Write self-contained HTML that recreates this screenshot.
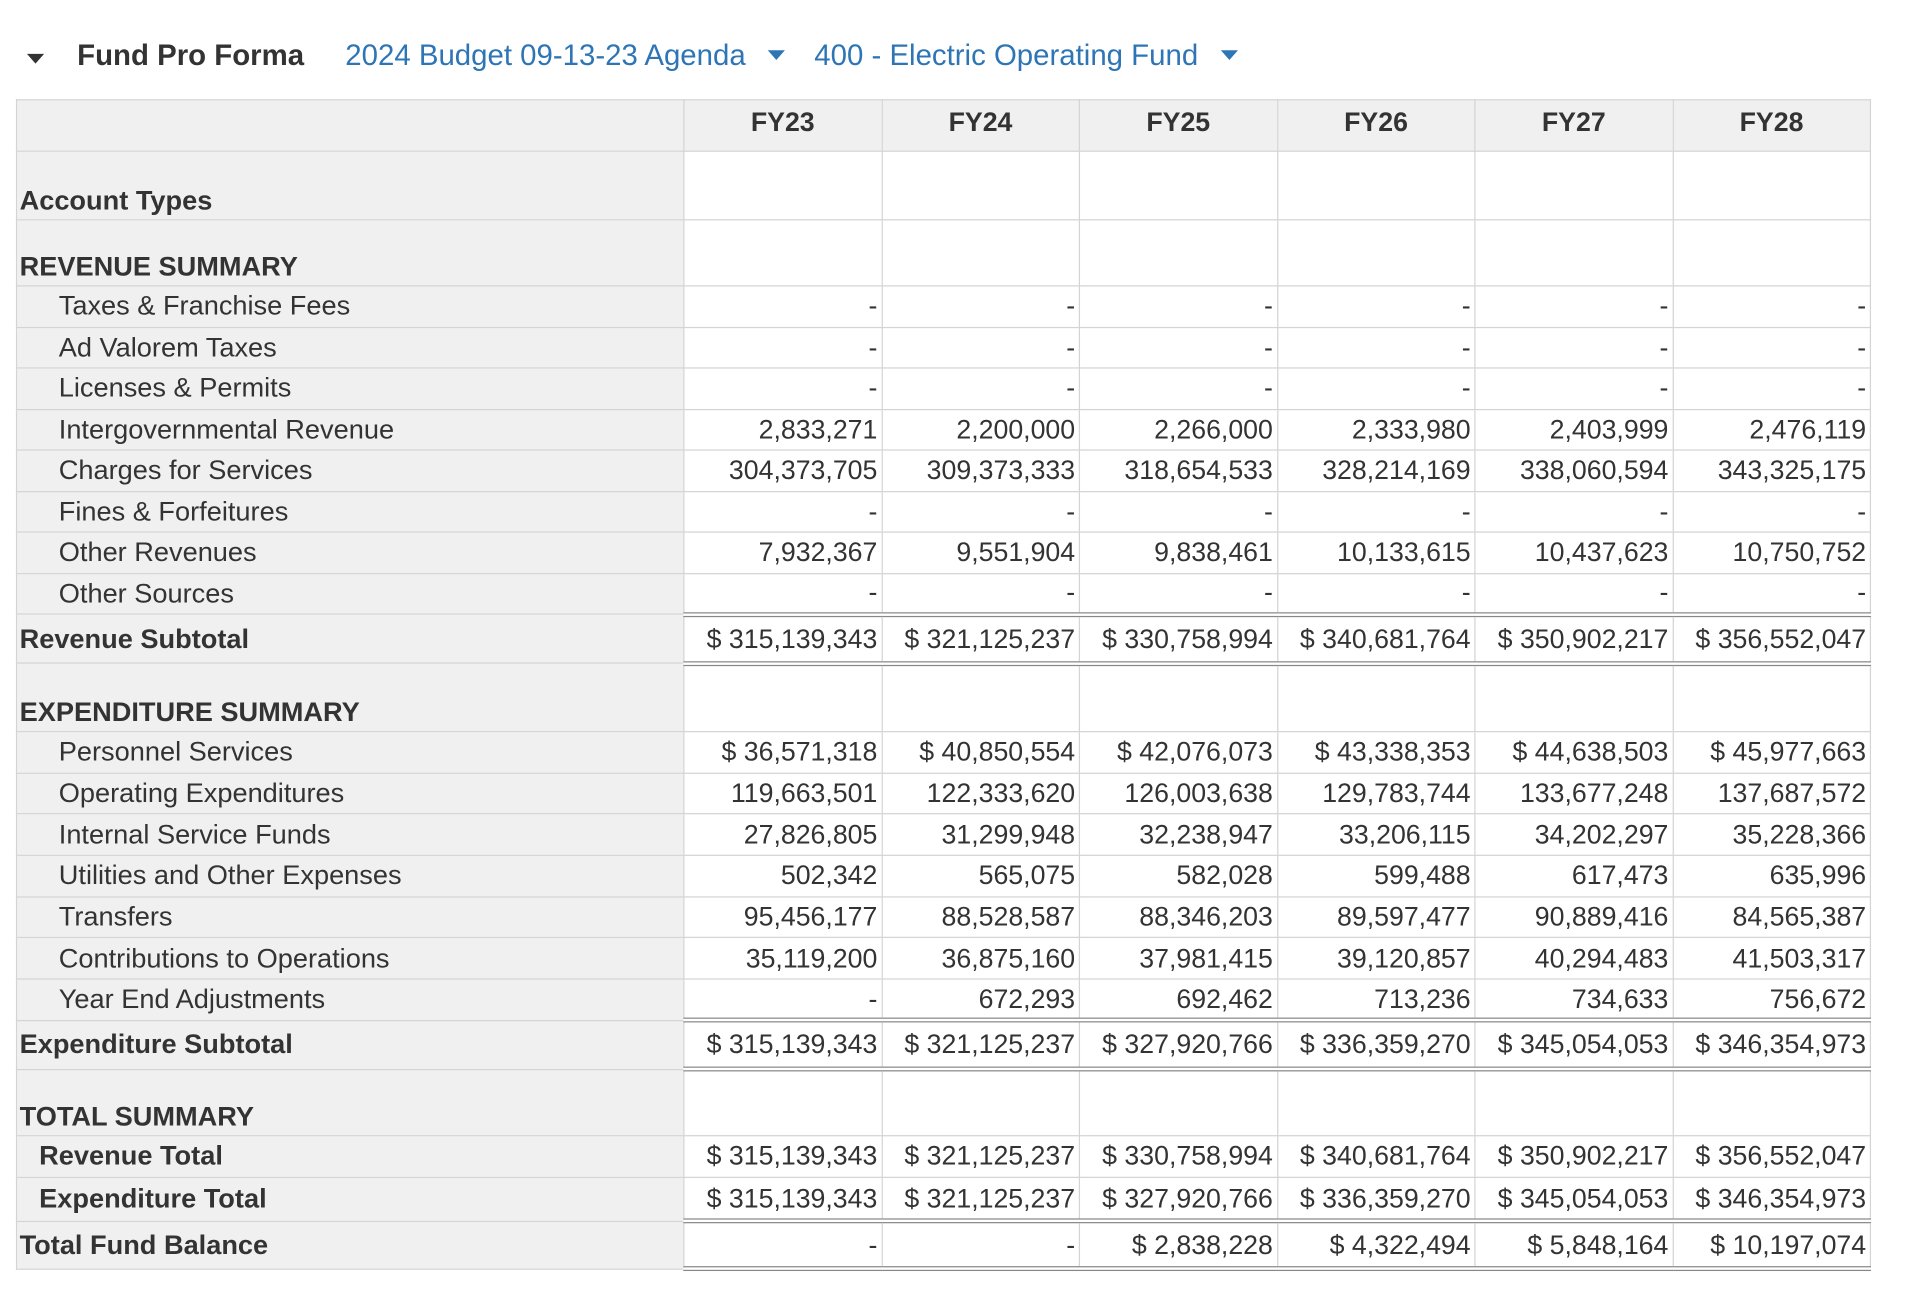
<!DOCTYPE html>
<html><head><meta charset="utf-8"><style>
html,body{margin:0;padding:0;background:#fff;}
body{width:1920px;height:1303px;overflow:hidden;}
#w{transform:scale(1.2245);transform-origin:0 0;width:1568px;height:1065px;position:relative;font-family:"Liberation Sans",Arial,sans-serif;color:#333;}
.top{position:absolute;top:32px;left:0;height:30px;font-size:24px;white-space:nowrap;}
.top span{position:absolute;top:0;}
.tri{width:0;height:0;border-left:7px solid transparent;border-right:7px solid transparent;border-top:8px solid #333;position:absolute;}
table{position:absolute;left:13px;top:81px;border-collapse:collapse;table-layout:fixed;width:1515px;font-size:21.8px;}
td,th{border:1px solid #d4d4d4;padding:0 3px;white-space:nowrap;overflow:hidden;}
td.l{background:#f0f0f0;text-align:left;padding-left:2px;font-size:22.2px;}
td.n{text-align:right;background:#fff;}
th{background:#f0f0f0;font-weight:bold;font-size:21.8px;padding-bottom:5px;}
.b{font-weight:bold;}
.i{padding-left:34px!important;}
.i2{padding-left:18px!important;font-weight:bold;}
.bot td{vertical-align:bottom;padding-bottom:2px;}
.db td.n{border-bottom:4px double #888;}
</style></head><body><div id="w">
<div class="top">
<div class="tri" style="left:22px;top:12px;"></div>
<span class="b" style="left:63px;">Fund Pro Forma</span>
<span style="left:282px;color:#2e75b6;">2024 Budget 09-13-23 Agenda</span>
<div class="tri" style="left:627px;top:9px;border-top-color:#2e75b6;"></div>
<span style="left:665px;color:#2e75b6;">400 - Electric Operating Fund</span>
<div class="tri" style="left:997px;top:9px;border-top-color:#2e75b6;"></div>
</div>
<table>
<colgroup><col style="width:545px"><col><col><col><col><col><col></colgroup>
<tr style="height:42px"><th></th><th>FY23</th><th>FY24</th><th>FY25</th><th>FY26</th><th>FY27</th><th>FY28</th></tr>
<tr class="bot" style="height:56px"><td class="l b" style="padding-bottom:2px">Account Types</td><td class="n"></td><td class="n"></td><td class="n"></td><td class="n"></td><td class="n"></td><td class="n"></td></tr>
<tr class="bot" style="height:54px"><td class="l b">REVENUE SUMMARY</td><td class="n"></td><td class="n"></td><td class="n"></td><td class="n"></td><td class="n"></td><td class="n"></td></tr>
<tr style="height:33.5px"><td class="l i">Taxes &amp; Franchise Fees</td><td class="n">-</td><td class="n">-</td><td class="n">-</td><td class="n">-</td><td class="n">-</td><td class="n">-</td></tr>
<tr style="height:33.5px"><td class="l i">Ad Valorem Taxes</td><td class="n">-</td><td class="n">-</td><td class="n">-</td><td class="n">-</td><td class="n">-</td><td class="n">-</td></tr>
<tr style="height:33.5px"><td class="l i">Licenses &amp; Permits</td><td class="n">-</td><td class="n">-</td><td class="n">-</td><td class="n">-</td><td class="n">-</td><td class="n">-</td></tr>
<tr style="height:33.5px"><td class="l i">Intergovernmental Revenue</td><td class="n">2,833,271</td><td class="n">2,200,000</td><td class="n">2,266,000</td><td class="n">2,333,980</td><td class="n">2,403,999</td><td class="n">2,476,119</td></tr>
<tr style="height:33.5px"><td class="l i">Charges for Services</td><td class="n">304,373,705</td><td class="n">309,373,333</td><td class="n">318,654,533</td><td class="n">328,214,169</td><td class="n">338,060,594</td><td class="n">343,325,175</td></tr>
<tr style="height:33.5px"><td class="l i">Fines &amp; Forfeitures</td><td class="n">-</td><td class="n">-</td><td class="n">-</td><td class="n">-</td><td class="n">-</td><td class="n">-</td></tr>
<tr style="height:33.5px"><td class="l i">Other Revenues</td><td class="n">7,932,367</td><td class="n">9,551,904</td><td class="n">9,838,461</td><td class="n">10,133,615</td><td class="n">10,437,623</td><td class="n">10,750,752</td></tr>
<tr class="db" style="height:33.5px"><td class="l i">Other Sources</td><td class="n">-</td><td class="n">-</td><td class="n">-</td><td class="n">-</td><td class="n">-</td><td class="n">-</td></tr>
<tr class="db" style="height:40px"><td class="l b">Revenue Subtotal</td><td class="n">$ 315,139,343</td><td class="n">$ 321,125,237</td><td class="n">$ 330,758,994</td><td class="n">$ 340,681,764</td><td class="n">$ 350,902,217</td><td class="n">$ 356,552,047</td></tr>
<tr class="bot" style="height:56px"><td class="l b">EXPENDITURE SUMMARY</td><td class="n"></td><td class="n"></td><td class="n"></td><td class="n"></td><td class="n"></td><td class="n"></td></tr>
<tr style="height:33.7px"><td class="l i">Personnel Services</td><td class="n">$ 36,571,318</td><td class="n">$ 40,850,554</td><td class="n">$ 42,076,073</td><td class="n">$ 43,338,353</td><td class="n">$ 44,638,503</td><td class="n">$ 45,977,663</td></tr>
<tr style="height:33.7px"><td class="l i">Operating Expenditures</td><td class="n">119,663,501</td><td class="n">122,333,620</td><td class="n">126,003,638</td><td class="n">129,783,744</td><td class="n">133,677,248</td><td class="n">137,687,572</td></tr>
<tr style="height:33.7px"><td class="l i">Internal Service Funds</td><td class="n">27,826,805</td><td class="n">31,299,948</td><td class="n">32,238,947</td><td class="n">33,206,115</td><td class="n">34,202,297</td><td class="n">35,228,366</td></tr>
<tr style="height:33.7px"><td class="l i">Utilities and Other Expenses</td><td class="n">502,342</td><td class="n">565,075</td><td class="n">582,028</td><td class="n">599,488</td><td class="n">617,473</td><td class="n">635,996</td></tr>
<tr style="height:33.7px"><td class="l i">Transfers</td><td class="n">95,456,177</td><td class="n">88,528,587</td><td class="n">88,346,203</td><td class="n">89,597,477</td><td class="n">90,889,416</td><td class="n">84,565,387</td></tr>
<tr style="height:33.7px"><td class="l i">Contributions to Operations</td><td class="n">35,119,200</td><td class="n">36,875,160</td><td class="n">37,981,415</td><td class="n">39,120,857</td><td class="n">40,294,483</td><td class="n">41,503,317</td></tr>
<tr class="db" style="height:33.7px"><td class="l i">Year End Adjustments</td><td class="n">-</td><td class="n">672,293</td><td class="n">692,462</td><td class="n">713,236</td><td class="n">734,633</td><td class="n">756,672</td></tr>
<tr class="db" style="height:40px"><td class="l b">Expenditure Subtotal</td><td class="n">$ 315,139,343</td><td class="n">$ 321,125,237</td><td class="n">$ 327,920,766</td><td class="n">$ 336,359,270</td><td class="n">$ 345,054,053</td><td class="n">$ 346,354,973</td></tr>
<tr class="bot" style="height:54px"><td class="l b">TOTAL SUMMARY</td><td class="n"></td><td class="n"></td><td class="n"></td><td class="n"></td><td class="n"></td><td class="n"></td></tr>
<tr style="height:34px"><td class="l i2">Revenue Total</td><td class="n">$ 315,139,343</td><td class="n">$ 321,125,237</td><td class="n">$ 330,758,994</td><td class="n">$ 340,681,764</td><td class="n">$ 350,902,217</td><td class="n">$ 356,552,047</td></tr>
<tr class="db" style="height:36px"><td class="l i2">Expenditure Total</td><td class="n">$ 315,139,343</td><td class="n">$ 321,125,237</td><td class="n">$ 327,920,766</td><td class="n">$ 336,359,270</td><td class="n">$ 345,054,053</td><td class="n">$ 346,354,973</td></tr>
<tr class="db" style="height:39px"><td class="l b">Total Fund Balance</td><td class="n">-</td><td class="n">-</td><td class="n">$ 2,838,228</td><td class="n">$ 4,322,494</td><td class="n">$ 5,848,164</td><td class="n">$ 10,197,074</td></tr>
</table>
</div></body></html>
